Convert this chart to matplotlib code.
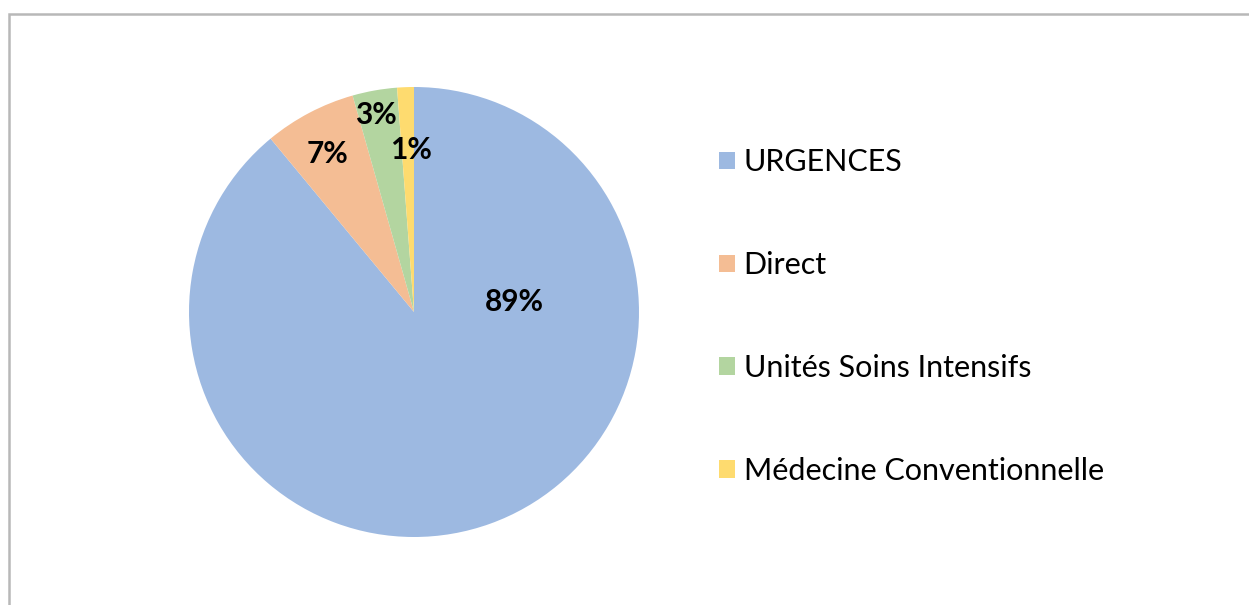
import matplotlib.pyplot as plt
import numpy as np
from matplotlib.patches import Rectangle, Patch

categories = ["URGENCES", "Direct", "Unités Soins Intensifs", "Médecine Conventionnelle"]
shares = [89.0, 6.6, 3.2, 1.2]
pct_labels = ["89%", "7%", "3%", "1%"]

colors = ["#9DB9E1", "#F4BD94", "#B3D5A0", "#FEDB6F"]
# (radial distance, angle in degrees) for the percentage labels
label_pos = [(0.45, 5.7), (0.80, 118.7), (0.89, 101.0), (0.72, 91.0)]

plt.rcParams["font.family"] = ["Lato", "DejaVu Sans"]

W, H = 1249, 605
fig = plt.figure(figsize=(W / 100, H / 100), dpi=100)

# outer chart frame (right/bottom edges run off the picture)
fig.patches.append(Rectangle((9 / W, -0.1), 1.2, (H - 14) / H + 0.1,
                             transform=fig.transFigure, fill=False,
                             edgecolor="#B8B8B8", linewidth=1.8))

cx, cy, r = 414, 312, 225
ax = fig.add_axes([(cx - r) / W, (H - cy - r) / H, 2 * r / W, 2 * r / H])
wedges, _ = ax.pie(shares, colors=colors, startangle=90, counterclock=False,
                   radius=1, wedgeprops=dict(linewidth=0))
ax.set_xlim(-1, 1)
ax.set_ylim(-1, 1)
ax.set_aspect("equal")
ax.axis("off")

for txt, (dist, ang) in zip(pct_labels, label_pos):
    a = np.deg2rad(ang)
    ax.text(dist * np.cos(a), dist * np.sin(a), txt, ha="center", va="center",
            fontsize=21.5, fontweight="bold", color="black")

handles = [Patch(facecolor=c, edgecolor="none") for c in colors]
fig.legend(handles, categories, loc="upper left",
           bbox_to_anchor=(704 / W, 1 - 133 / H), frameon=False,
           fontsize=22, labelspacing=2.45, handlelength=0.5,
           handleheight=0.5, handletextpad=0.3, borderpad=0)

fig.savefig("out.png", dpi=100, facecolor="white")
